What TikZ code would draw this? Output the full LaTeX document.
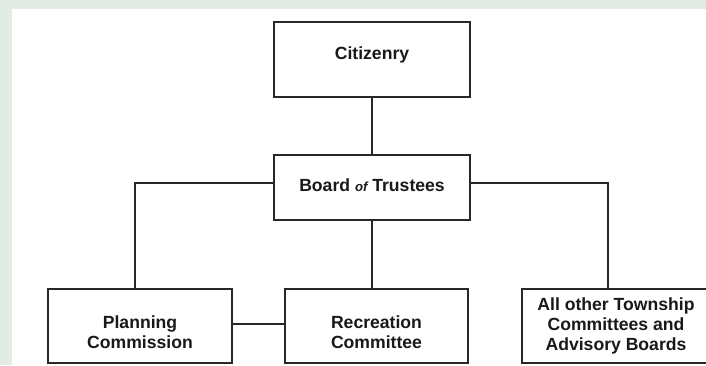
\documentclass[tikz,border=0pt]{standalone}
\usepackage{fontspec}
\setmainfont{Liberation Sans}
\definecolor{pagegreen}{RGB}{226,236,228}
\definecolor{lineink}{RGB}{40,40,40}
\begin{document}
\begin{tikzpicture}
[x=0.5pt,y=-0.5pt,
 box/.style={rectangle,draw=lineink,line width=0.9pt,inner sep=0pt,fill=white},
 boxtext/.style={align=center,inner sep=0pt,text=black!90,
   font=\fontsize{8.8}{10}\selectfont\bfseries},
 link/.style={draw=lineink,line width=0.9pt}]
\useasboundingbox (0,0) rectangle (706,365);
\clip (0,0) rectangle (706,365);
\fill[pagegreen] (0,0) rectangle (706,365);
\fill[white] (12,9) rectangle (706,365);
% boxes
\node [box,minimum width=98pt,minimum height=37.5pt,
  label={[boxtext,name=citizenry-text,yshift=2.25pt]center:Citizenry}]
  (citizenry) at (372,59.5) {};
\node [box,minimum width=98pt,minimum height=32.5pt,
  label={[boxtext,name=board-text,yshift=1.25pt]center:Board {\fontsize{6.6}{8}\selectfont\itshape of} Trustees}]
  (board) at (372,187.5) {};
\node [box,minimum width=92pt,minimum height=37pt,
  label={[boxtext,name=planning-text,yshift=-3pt]center:Planning\\Commission}]
  (planning) at (140,326) {};
\node [box,minimum width=91.5pt,minimum height=37pt,
  label={[boxtext,name=recreation-text,yshift=-3pt]center:Recreation\\Committee}]
  (recreation) at (376.5,326) {};
\node [box,minimum width=94pt,minimum height=37pt,
  label={[boxtext,name=allother-text,yshift=0.25pt]center:All other Township\\Committees and\\Advisory Boards}]
  (allother) at (616,326) {};
% connectors
\draw[link] (citizenry) -- (board);
\draw[link] ([yshift=2.25pt]board.west) -| ([xshift=-2.5pt]planning.north);
\draw[link] (board.south) -- (board.south |- recreation.north);
\draw[link] ([yshift=2.25pt]board.east) -| ([xshift=-4pt]allother.north);
\draw[link] ([yshift=1pt]planning.east) -- ([yshift=1pt]planning.east -| recreation.west);
\end{tikzpicture}
\end{document}
